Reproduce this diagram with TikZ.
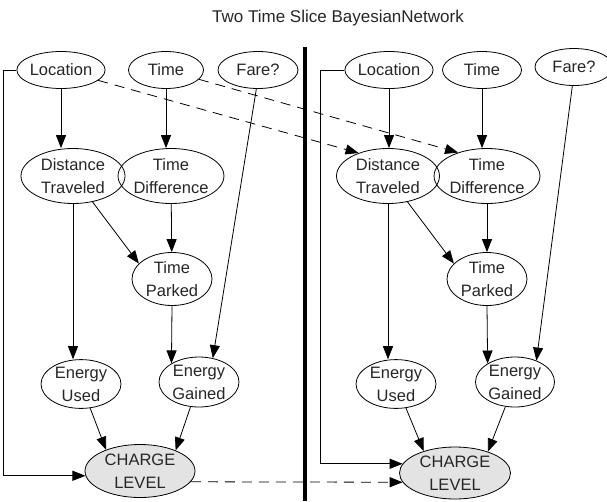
\documentclass[tikz,border=0pt]{standalone}
\usepackage{fontspec}
\setmainfont{Liberation Sans}
\usetikzlibrary{arrows.meta,shapes.geometric}

\begin{document}
\begin{tikzpicture}[
  x=1pt, y=-1pt,
  var/.style={ellipse, draw, line width=0.8pt, inner sep=0pt, align=center,
              font=\fontsize{16.5}{23}\selectfont, text=black!85},
  obs/.style={var, fill=black!11},
  arrow/.style={-{Triangle[length=13pt, width=10pt]}, line width=0.8pt},
  dasharrow/.style={arrow, dash pattern=on 10pt off 7pt},
  divider/.style={line width=4pt}
]
  \useasboundingbox (0,0) rectangle (607,501);
  \node[font=\fontsize{17}{20}\selectfont, text=black!85] (title) at (338,18)
    {Two Time Slice BayesianNetwork};

  % slice t
  \node[var, minimum width=81pt, minimum height=37pt] (loc1) at (61,70) {Location};
  \node[var, minimum width=75pt, minimum height=37pt] (time1) at (166,70) {Time};
  \node[var, minimum width=80pt, minimum height=37pt] (fare1) at (258,70) {Fare?};
  \node[var, minimum width=104pt, minimum height=55pt] (dist1) at (73,176) {Distance\\Traveled};
  \node[var, minimum width=97pt, minimum height=55pt] (tdiff1) at (171,176) {Time\\Difference};
  \node[var, minimum width=80pt, minimum height=53pt] (park1) at (172,279) {Time\\Parked};
  \node[var, minimum width=80pt, minimum height=48pt] (used1) at (81,384) {Energy\\Used};
  \node[var, minimum width=80pt, minimum height=50pt] (gain1) at (199,382) {Energy\\Gained};
  \node[obs, minimum width=110pt, minimum height=53pt] (charge1) at (140,471) {CHARGE\\LEVEL};

  % slice t+1
  \node[var, minimum width=79pt, minimum height=37pt] (loc2) at (389,70) {Location};
  \node[var, minimum width=79pt, minimum height=37pt] (time2) at (482,70) {Time};
  \node[var, minimum width=78pt, minimum height=37pt] (fare2) at (574,67) {Fare?};
  \node[var, minimum width=103pt, minimum height=55pt] (dist2) at (388,176) {Distance\\Traveled};
  \node[var, minimum width=95pt, minimum height=55pt] (tdiff2) at (487,176) {Time\\Difference};
  \node[var, minimum width=80pt, minimum height=53pt] (park2) at (487,279) {Time\\Parked};
  \node[var, minimum width=80pt, minimum height=48pt] (used2) at (396,384) {Energy\\Used};
  \node[var, minimum width=79pt, minimum height=50pt] (gain2) at (515,382) {Energy\\Gained};
  \node[obs, minimum width=111pt, minimum height=52pt] (charge2) at (455,473) {CHARGE\\LEVEL};

  \draw[divider] (305,47) -- (305,501);

  \draw[arrow] (loc1.south) -- (loc1.south |- dist1.north);
  \draw[arrow] (time1.south) -- (time1.south |- tdiff1.north);
  \draw[arrow] (fare1.265) -- (gain1.60);
  \draw[arrow] (dist1.south) -- (dist1.south |- used1.north);
  \draw[arrow] (dist1) -- (park1.155);
  \draw[arrow] (tdiff1) -- (park1);
  \draw[arrow] (park1.south) -- (gain1.146);
  \draw[arrow] (used1) -- (charge1.148);
  \draw[arrow] (gain1) -- (charge1.30);
  \draw[arrow] (loc1.west) -- ++(-13,0) |- (charge1.185);

  \draw[arrow] (loc2.south) -- (loc2.south |- dist2.north);
  \draw[arrow] (time2.south) -- (time2.south |- tdiff2.north);
  \draw[arrow] (fare2.265) -- (gain2.45);
  \draw[arrow] (dist2.south) -- (dist2.south |- used2.north);
  \draw[arrow] (dist2) -- (park2.155);
  \draw[arrow] (tdiff2) -- (park2);
  \draw[arrow] (park2.south) -- (gain2.146);
  \draw[arrow] (used2) -- (charge2.145);
  \draw[arrow] (gain2) -- (charge2.33);
  \draw[arrow] (loc2.west) -- ++(-24,0) |- (charge2.170);

  % between slices
  \draw[dasharrow] (loc1) -- (dist2.142);
  \draw[dasharrow] (time1) -- (tdiff2.141);
  \draw[dasharrow] (charge1.348) -- (charge2.190);
\end{tikzpicture}
\end{document}
